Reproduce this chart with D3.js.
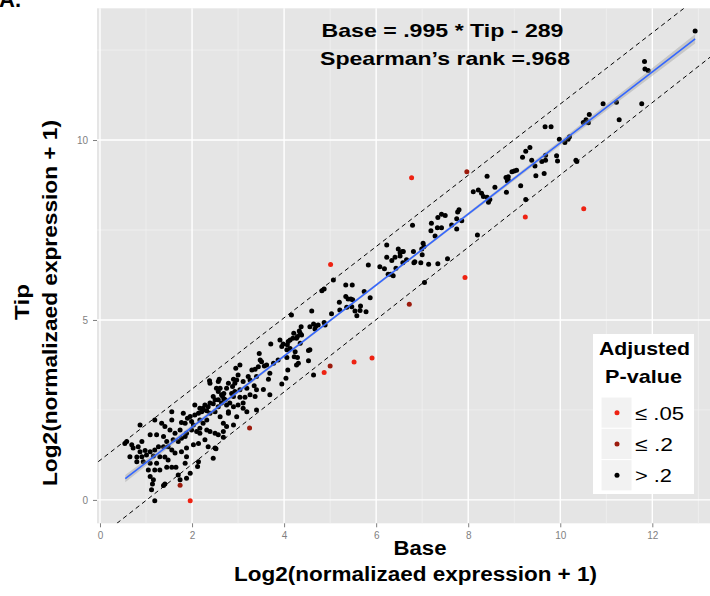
<!DOCTYPE html>
<html>
<head>
<meta charset="utf-8">
<script src="https://cdn.jsdelivr.net/npm/d3@7"></script>
<style>
  body { margin: 0; background: #fff; }
  svg { display: block; font-family: "Liberation Sans", Arial, sans-serif; }
</style>
</head>
<body>
<svg id="chart" width="710" height="596"></svg>
<script>
// ---- data (x = Base, y = Tip, log2 scale) ----
// adjusted p <= .05
const sig05 = [[6.77,8.95],[5.01,6.54],[7.93,6.18],[9.24,7.86],[10.51,8.09],[4.87,3.54],[5.52,3.83],[5.91,3.94],[1.96,-0.02]];
// adjusted p <= .2
const sig2 = [[7.97,9.12],[6.72,5.44],[5.0,3.72],[1.74,0.41],[3.25,2.0]];
// adjusted p > .2
const nonSig = [
  [12.93,13.03],[11.83,12.18],[11.84,11.97],[11.91,11.93],[11.22,11.05],[10.93,11.01],[11.77,11.01],[11.28,10.56],
  [10.63,10.71],[10.56,10.56],[10.5,10.49],[10.61,10.48],[9.67,10.37],[9.8,10.37],[9.98,10.02],[10.1,9.93],[10.2,10.09],[10.17,10.02],
  [9.34,9.79],[9.25,9.69],[9.18,9.52],[9.38,9.44],[9.45,9.28],[9.6,9.4],[9.68,9.44],[9.68,9.58],[9.92,9.56],[9.94,9.42],
  [9.65,9.07],[9.47,9.01],[10.34,9.44],[10.36,9.4],[9.14,8.73],[9.05,9.16],[9.0,9.14],[8.95,9.12],[8.87,8.98],[8.82,8.96],
  [8.87,8.89],[8.85,8.86],[8.83,8.55],[8.58,8.69],[8.41,8.99],[8.47,8.35],[8.44,8.27],[8.41,8.41],[8.33,8.43],[8.29,8.52],
  [8.22,8.61],[8.11,8.56],[8.2,7.36],[9.25,8.35],[7.8,8.06],[7.77,8.0],[7.75,7.81],[7.75,7.53],[7.86,7.76],[7.64,7.64],
  [7.5,7.9],[7.42,7.94],[7.34,7.85],[7.2,7.69],[7.19,7.48],[7.28,7.33],[7.33,7.56],[7.42,7.56],[7.55,6.7],[6.79,7.63],
  [7.02,7.13],[7.04,7.04],[6.99,6.97],[6.81,6.9],[6.97,6.59],[6.82,6.59],[6.84,6.62],[6.59,6.9],[6.52,6.87],[6.66,6.67],
  [6.58,6.59],[7.0,6.81],[7.14,6.55],[7.34,6.56],[7.05,6.04],
  [6.48,6.97],[6.57,6.9],[6.52,6.78],[6.41,6.74],[6.23,6.74],[6.23,7.08],[6.34,6.65],[6.43,6.44],[6.08,6.48],[6.18,6.42],
  [6.26,6.27],[6.37,6.23],[6.32,6.27],[5.83,6.53],[5.07,6.11],[4.87,5.86],[4.82,5.81],[5.34,5.97],[5.48,5.97],[5.34,5.65],
  [5.39,5.58],[5.49,5.56],[5.45,5.58],[5.74,5.79],[5.87,5.62],[5.2,5.49],[5.21,5.28],[5.36,5.35],[5.47,5.37],[5.66,5.39],
  [5.65,5.26],[5.54,5.25],[5.78,5.23],[5.58,5.12],[5.03,5.17],[4.89,4.86],
  [4.6,5.25],[4.16,5.14],[4.87,4.93],[4.74,4.86],[4.69,4.83],[4.64,4.89],[4.67,4.75],[4.56,4.81],[4.37,4.81],[4.35,4.63],
  [4.33,4.69],[4.38,4.58],[4.21,4.63],[4.29,4.54],[4.19,4.49],[4.27,4.49],[4.09,4.4],[4.13,4.44],[4.07,4.31],[3.98,4.33],
  [3.91,4.44],[3.95,4.26],[4.06,4.17],[4.13,4.21],[4.24,4.12],[4.35,4.35],[4.53,4.15],[4.56,4.17],[4.29,3.96],[4.31,3.8],
  [4.06,3.96],[4.08,3.61],[4.04,3.38],[3.95,3.22],[3.71,4.33],[3.87,3.89],[3.77,3.8],[3.62,3.75],[3.69,3.52],[3.66,3.35],
  [3.57,3.72],[3.48,3.89],[3.46,4.07],[3.51,3.84],[3.44,3.7],[3.37,3.63],[3.4,3.43],[3.3,3.61],[3.22,3.43],[3.26,3.33],
  [3.35,3.17],[3.19,3.1],[3.55,3.07],[3.69,2.92],[3.04,3.75],[2.95,3.66],[3.0,3.47],[2.97,3.33],[3.11,3.29],[2.93,3.24],
  [2.9,3.35],[2.88,3.15],[3.04,3.06],[2.93,3.01],[2.86,2.96],[2.79,3.24],[2.75,3.1],[2.69,2.96],[2.64,2.92],[2.61,3.1],
  [2.57,3.01],[2.46,2.87],[2.5,2.78],[2.39,2.69],[2.35,2.59],[2.28,2.64],[2.24,2.55],[2.21,2.45],[2.32,2.48],[2.39,2.41],
  [2.5,2.45],[2.57,2.59],[2.64,2.69],[2.72,2.78],[2.75,2.64],[2.82,2.69],[2.79,2.45],[2.9,2.59],[3.0,2.64],[3.11,2.69],
  [3.15,2.85],[3.04,2.85],[2.9,2.87],[3.26,2.92],[3.37,2.87],[3.11,2.55],[3.19,2.45],[3.4,2.5],[2.59,3.35],
  [2.38,3.31],[2.53,3.1],[2.66,2.89],[2.69,2.81],[2.57,2.78],[2.46,2.67],[2.24,2.5],[2.17,2.55],[2.14,2.41],[2.06,2.64],
  [2.06,2.36],[1.96,2.32],[1.9,2.27],[1.81,2.41],[1.99,2.18],[1.85,2.13],[1.77,2.15],[1.74,1.94],[1.63,1.85],[1.52,1.94],
  [1.56,2.22],[1.41,2.04],[1.34,2.13],[1.19,2.22],[0.87,2.08],[1.09,1.81],[1.23,1.81],[1.38,1.76],[1.45,1.62],[1.59,1.67],
  [1.7,1.62],[1.77,1.71],[1.85,1.76],[1.88,1.85],[1.99,1.94],[2.1,1.9],[2.17,1.99],[2.24,2.13],[2.32,2.22],[2.17,2.22],
  [2.03,2.08],[2.17,1.85],[2.32,1.94],[2.39,1.9],[2.5,1.85],[2.57,1.81],[2.68,1.9],[2.75,2.04],[2.68,2.13],[2.79,2.41],
  [2.61,2.31],[0.58,1.62],[0.54,1.57],[0.69,1.53],[0.72,1.44],[0.83,1.48],[0.91,1.62],[0.87,1.34],[0.98,1.37],[1.09,1.34],
  [1.19,1.39],[1.27,1.48],[1.38,1.48],[1.48,1.48],[1.56,1.39],[1.63,1.3],[1.77,1.34],[1.88,1.44],[2.03,1.53],[2.14,1.57],
  [2.28,1.67],[2.35,1.48],[2.5,1.44],[2.46,1.16],[2.14,1.06],[0.65,1.2],[0.8,1.19],[0.91,1.2],[1.01,1.25],[1.16,1.22],
  [1.3,1.2],[1.41,1.19],[1.48,1.11],[1.09,1.02],[1.23,1.02],[0.94,1.06],[0.8,1.06],[1.85,1.02],[1.88,1.2],[1.05,0.83],
  [1.19,0.83],[1.3,0.83],[1.45,0.91],[1.56,0.91],[1.65,0.91],[1.7,0.69],[1.88,0.6],[1.74,0.56],[1.96,0.74],[1.09,0.65],
  [1.16,0.56],[1.12,0.28],[1.14,0.44],[1.38,0.4],[1.41,0.44],[1.19,-0.02],
  [2.12,0.93],[2.52,1.42],[2.68,1.74],[2.9,2.08],[2.97,2.31],[3.4,3.06],[4.27,3.75],[4.53,3.87],[4.22,3.98],[4.64,3.47],
  [1.56,2.45],[2.39,3.24],[2.57,3.29]
];

const xTicks = [0, 2, 4, 6, 8, 10, 12];
const xMinor = [1, 3, 5, 7, 9, 11, 13];
const yTicks = [0, 5, 10];
const yMinor = [2.5, 7.5, 12.5];

// linear fit + standard error band
const fitIntercept = 0.047, fitSlope = 0.987;
const fitRange = [0.55, 12.93];
const bandX = [0.55, 2, 4, 6, 8, 10, 12.93];
const bandHalf = [0.10, 0.06, 0.04, 0.035, 0.04, 0.07, 0.13];
// dashed guide lines
const guides = [{a: 1.1, b: 0.99}, {a: -1.02, b: 1.005}];

const legendTitle = ["Adjusted", "P-value"];
const legendLabels = ["\u2264 .05", "\u2264 .2", "> .2"];
const legendColors = ["#ee2212", "#9c1b0d", "#000000"];

const svg = d3.select("#chart");
const panel = {left: 97, right: 743, top: 8.3, bottom: 523.3};

const x = d3.scaleLinear().domain([-0.065, 13.97]).range([panel.left, panel.right]);
const y = d3.scaleLinear().domain([-0.65, 13.66]).range([panel.bottom, panel.top]);

svg.append("defs").append("clipPath").attr("id", "clip")
  .append("rect")
  .attr("x", panel.left).attr("y", panel.top)
  .attr("width", panel.right - panel.left).attr("height", panel.bottom - panel.top);

// panel background
svg.append("rect")
  .attr("x", panel.left).attr("y", panel.top)
  .attr("width", panel.right - panel.left).attr("height", panel.bottom - panel.top)
  .style("fill", "#e5e5e5");

let grid = svg.append("g");
grid.selectAll(".xminor").data(xMinor).enter().append("line")
  .attr("x1", d => x(d)).attr("x2", d => x(d))
  .attr("y1", panel.top).attr("y2", panel.bottom)
  .style("stroke", "#f2f2f2").style("stroke-width", 0.7);
grid.selectAll(".yminor").data(yMinor).enter().append("line")
  .attr("y1", d => y(d)).attr("y2", d => y(d))
  .attr("x1", panel.left).attr("x2", panel.right)
  .style("stroke", "#f2f2f2").style("stroke-width", 0.7);
grid.selectAll(".xmajor").data(xTicks).enter().append("line")
  .attr("x1", d => x(d)).attr("x2", d => x(d))
  .attr("y1", panel.top).attr("y2", panel.bottom)
  .style("stroke", "#ffffff").style("stroke-width", 1.4);
grid.selectAll(".ymajor").data(yTicks).enter().append("line")
  .attr("y1", d => y(d)).attr("y2", d => y(d))
  .attr("x1", panel.left).attr("x2", panel.right)
  .style("stroke", "#ffffff").style("stroke-width", 1.4);

let plot = svg.append("g").attr("clip-path", "url(#clip)");

// dashed guides
plot.selectAll(".guide").data(guides).enter().append("line")
  .attr("x1", x(-1)).attr("y1", d => y(d.a + d.b * -1))
  .attr("x2", x(15)).attr("y2", d => y(d.a + d.b * 15))
  .style("stroke", "#000").style("stroke-width", 1)
  .style("stroke-dasharray", "4.5,3.5");

// points
plot.selectAll(".ns").data(nonSig).enter().append("circle")
  .attr("cx", d => x(d[0])).attr("cy", d => y(d[1])).attr("r", 2.5)
  .style("fill", legendColors[2]);
plot.selectAll(".s2").data(sig2).enter().append("circle")
  .attr("cx", d => x(d[0])).attr("cy", d => y(d[1])).attr("r", 2.5)
  .style("fill", legendColors[1]);
plot.selectAll(".s05").data(sig05).enter().append("circle")
  .attr("cx", d => x(d[0])).attr("cy", d => y(d[1])).attr("r", 2.5)
  .style("fill", legendColors[0]);

// fit band + line
let band = d3.area()
  .x((d, i) => x(d))
  .y0((d, i) => y(fitIntercept + fitSlope * d - bandHalf[i]))
  .y1((d, i) => y(fitIntercept + fitSlope * d + bandHalf[i]))
  .curve(d3.curveMonotoneX);
plot.append("path").attr("d", band(bandX))
  .style("fill", "#999").style("fill-opacity", 0.4);
plot.append("line")
  .attr("x1", x(fitRange[0])).attr("y1", y(fitIntercept + fitSlope * fitRange[0]))
  .attr("x2", x(fitRange[1])).attr("y2", y(fitIntercept + fitSlope * fitRange[1]))
  .style("stroke", "#3366ff").style("stroke-width", 1.6);

// axes
let xAxis = svg.append("g").attr("transform", "translate(0," + panel.bottom + ")")
  .call(d3.axisBottom(x).tickValues(xTicks).tickSize(4).tickPadding(5));
let yAxis = svg.append("g").attr("transform", "translate(" + panel.left + ",0)")
  .call(d3.axisLeft(y).tickValues(yTicks).tickSize(4).tickPadding(5));
[xAxis, yAxis].forEach(function(ax) {
  ax.select(".domain").remove();
  ax.selectAll("line").style("stroke", "#7f7f7f");
  ax.selectAll("text").style("fill", "#7f7f7f").style("font-size", "10px")
    .style("font-family", "\"Liberation Sans\", Arial, sans-serif");
});

// bold text helper: font size from cap height, width fitted to the figure
function boldText(parent, txt, size, len) {
  return parent.append("text").attr("text-anchor", "middle")
    .attr("textLength", len).attr("lengthAdjust", "spacingAndGlyphs")
    .style("font-weight", "bold").style("font-size", size + "px").text(txt);
}

// annotation
boldText(svg, "Base = .995 * Tip - 289", 19, 242).attr("x", 442.5).attr("y", 37.3);
boldText(svg, "Spearman\u2019s rank =.968", 19, 250).attr("x", 445).attr("y", 65);

// axis titles
boldText(svg, "Base", 19.5, 53).attr("x", 420).attr("y", 555);
boldText(svg, "Log2(normalizaed expression + 1)", 19.5, 363).attr("x", 415.5).attr("y", 581);
boldText(svg, "Tip", 19.5, 36).attr("transform", "translate(28.5,302) rotate(-90)");
boldText(svg, "Log2(normalizaed expression + 1)", 19.5, 366).attr("transform", "translate(57,303) rotate(-90)");

// panel tag (cut at the top edge, as in the figure)
svg.append("text").attr("x", -1).attr("y", 7)
  .style("font-weight", "bold").style("font-size", "22px").text("A.");

// legend
let legend = svg.append("g").attr("transform", "translate(593,334)");
legend.append("rect").attr("width", 101).attr("height", 160).style("fill", "#fff");
boldText(legend, legendTitle[0], 19, 91).attr("x", 51.5).attr("y", 20.5);
boldText(legend, legendTitle[1], 19, 77).attr("x", 50.5).attr("y", 48.7);
const labelLen = [49, 38, 37];
let keys = legend.selectAll(".key").data(legendLabels).enter().append("g")
  .attr("transform", (d, i) => "translate(8," + (63 + i * 31.3) + ")");
keys.append("rect").attr("width", 31).attr("height", 31.3)
  .style("fill", "#f2f2f2").style("stroke", "#fff").style("stroke-width", 1);
keys.append("circle").attr("cx", 16).attr("cy", 15.7).attr("r", 2.5)
  .style("fill", (d, i) => legendColors[i]);
keys.append("text").attr("x", 34).attr("y", 22.5)
  .attr("textLength", (d, i) => labelLen[i]).attr("lengthAdjust", "spacingAndGlyphs")
  .style("font-size", "19px").text(d => d);
</script>
</body>
</html>
